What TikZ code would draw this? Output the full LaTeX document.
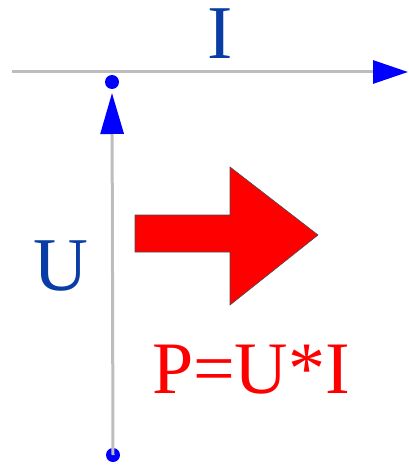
\documentclass[tikz,border=0pt]{standalone}
\usepackage{fontspec}
\setmainfont{Liberation Serif}
\usetikzlibrary{arrows.meta}
\definecolor{axisgray}{HTML}{BDBDBD}
\definecolor{tipblue}{HTML}{0000FF}
\definecolor{labelblue}{HTML}{0A3CA5}
\definecolor{powerred}{HTML}{FF0000}
\tikzset{
  axis/.style={draw=axisgray, line width=3pt},
  dotnode/.style={circle, fill=tipblue, inner sep=0pt, minimum size=14pt},
  biglabel/.style={inner sep=0pt, font=\fontsize{76}{76}\selectfont},
}
\begin{document}
\begin{tikzpicture}[x=1pt,y=-1pt]
\useasboundingbox (0,0) rectangle (408,465);
% horizontal axis (current I)
\coordinate (hstart) at (12,72);
\coordinate (hend) at (408,72);
\draw[axis, -{Triangle[length=35pt,width=23pt,color=tipblue,fill=tipblue]}] (hstart) -- (hend);
% vertical line (voltage U)
\node[dotnode] (top) at (112,82) {};
\node[dotnode] (bot) at (113,455) {};
\coordinate (utip) at (112,93);
\draw[axis, -{Triangle[length=41pt,width=23pt,color=tipblue,fill=tipblue]}] (bot.center) -- (utip);
% labels
\node[biglabel, text=labelblue, anchor=base] (ilabel) at (220,59) {I};
\node[biglabel, text=labelblue, anchor=base] (ulabel) at (61,290) {U};
\node[biglabel, text=powerred, anchor=base, font=\fontsize{74}{74}\selectfont] (plabel) at (251,393) {P=U*I};
% red power arrow
\draw[fill=powerred, draw=black!70, line width=0.6pt]
  (135,215) -- (230,215) -- (230,167) -- (318,235) -- (230,305) -- (230,252) -- (135,252) -- cycle;
\end{tikzpicture}
\end{document}
